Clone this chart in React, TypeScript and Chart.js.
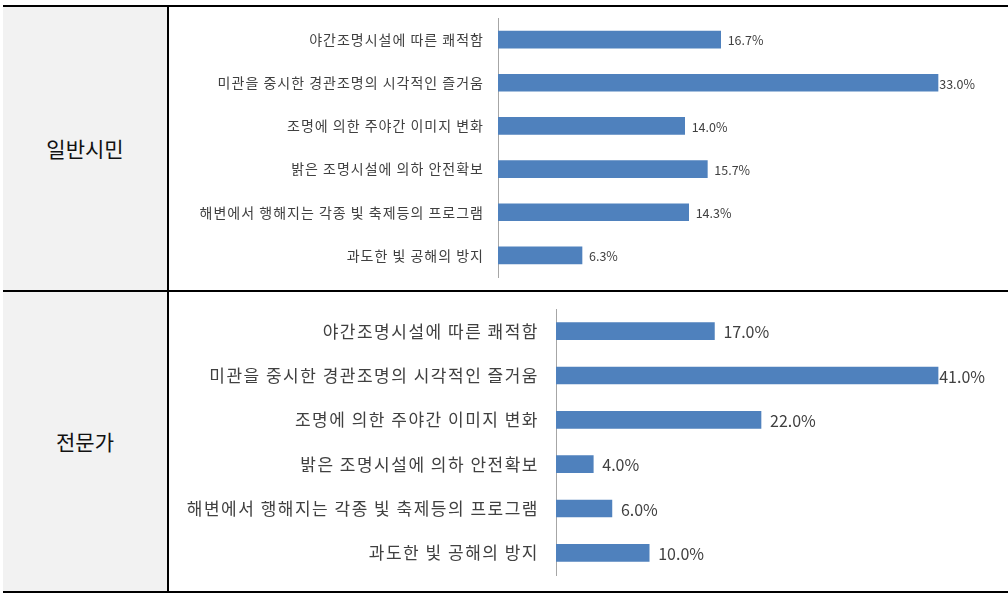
import React, { useEffect, useRef } from "react";
import { Chart, registerables } from "chart.js";

Chart.register(...registerables);

const categories = [
  "야간조명시설에 따른 쾌적함",
  "미관을 중시한 경관조명의 시각적인 즐거움",
  "조명에 의한 주야간 이미지 변화",
  "밝은 조명시설에 의하 안전확보",
  "해변에서 행해지는 각종 빛 축제등의 프로그램",
  "과도한 빛 공해의 방지",
];
const citizenValues = [16.7, 33.0, 14.0, 15.7, 14.3, 6.3];
const expertValues = [17.0, 41.0, 22.0, 4.0, 6.0, 10.0];
const rowLabels = ["일반시민", "전문가"];

const KR = "'Noto Sans CJK KR', 'Noto Sans', sans-serif";

const spacingPlugin = {
  id: "letterSpace",
  beforeDraw(chart: any, _args: any, opts: any) {
    (chart.ctx as any).letterSpacing = opts.spacing + "px";
  },
  afterDraw(chart: any) {
    (chart.ctx as any).letterSpacing = "0px";
  },
};

const valueLabelPlugin = {
  id: "valueLabels",
  afterDatasetsDraw(chart: any, _args: any, opts: any) {
    const ctx = chart.ctx;
    const meta = chart.getDatasetMeta(0);
    const data = chart.data.datasets[0].data as number[];
    ctx.save();
    (ctx as any).letterSpacing = "0px";
    ctx.font = `${opts.size}px ${KR}`;
    ctx.fillStyle = "#404040";
    ctx.textBaseline = "middle";
    ctx.textAlign = "left";
    meta.data.forEach((bar: any, i: number) => {
      const text = data[i].toFixed(1) + "%";
      const w = ctx.measureText(text).width;
      let x = bar.x + opts.offset;
      if (x + w > opts.limit) x = Math.max(bar.x + 1, opts.limit - w);
      ctx.fillText(text, x, bar.y + 1);
    });
    ctx.restore();
  },
};

type BarProps = {
  values: number[];
  left: number;
  top: number;
  width: number;
  height: number;
  axisWidth: number;
  max: number;
  padTop: number;
  padBottom: number;
  padRight: number;
  catSize: number;
  spacing: number;
  tickPad: number;
  valSize: number;
  valOffset: number;
  valLimit: number;
};

function BarChart(p: BarProps) {
  const ref = useRef<HTMLCanvasElement>(null);
  useEffect(() => {
    if (!ref.current) return;
    const chart = new Chart(ref.current, {
      type: "bar",
      data: {
        labels: categories,
        datasets: [
          {
            data: p.values,
            backgroundColor: "#4f81bd",
            borderWidth: 0,
            barThickness: 17,
          },
        ],
      },
      options: {
        indexAxis: "y",
        responsive: false,
        animation: false,
        devicePixelRatio: 1,
        layout: {
          padding: { top: p.padTop, bottom: p.padBottom, right: p.padRight, left: 0 },
        },
        plugins: {
          legend: { display: false },
          tooltip: { enabled: false },
          valueLabels: { size: p.valSize, offset: p.valOffset, limit: p.valLimit },
          letterSpace: { spacing: p.spacing },
        } as any,
        scales: {
          x: { display: false, min: 0, max: p.max },
          y: {
            grid: { display: false, drawTicks: false },
            border: { display: true, color: "#a6a6a6", width: 1 },
            ticks: {
              color: "#404040",
              padding: p.tickPad,
              font: { family: KR, size: p.catSize },
            },
            afterFit(scale: any) {
              scale.width = p.axisWidth;
              scale.paddingTop = 0;
              scale.paddingBottom = 0;
            },
          },
        },
      },
      plugins: [spacingPlugin, valueLabelPlugin],
    });
    return () => chart.destroy();
  }, []);
  return (
    <canvas
      ref={ref}
      width={p.width}
      height={p.height}
      style={{ position: "absolute", left: p.left, top: p.top, width: p.width, height: p.height }}
    />
  );
}

export default function App() {
  const line = (s: React.CSSProperties) => (
    <div style={{ position: "absolute", background: "#000", ...s }} />
  );
  const labelStyle = (top: number, h: number): React.CSSProperties => ({
    position: "absolute",
    left: 3,
    top,
    width: 164,
    height: h,
    background: "#f2f2f2",
    display: "flex",
    alignItems: "center",
    justifyContent: "center",
    fontFamily: KR,
    fontSize: 21,
    color: "#111",
  });
  return (
    <div
      style={{
        position: "absolute",
        left: 0,
        top: 0,
        width: 1008,
        height: 602,
        background: "#fff",
        overflow: "hidden",
      }}
    >
      <div style={labelStyle(6, 284)}>{rowLabels[0]}</div>
      <div style={labelStyle(291, 300)}>{rowLabels[1]}</div>
      <BarChart
        values={citizenValues}
        left={170}
        top={10}
        width={830}
        height={275}
        axisWidth={328}
        max={36}
        padTop={8}
        padBottom={8}
        padRight={22}
        catSize={14}
        spacing={1}
        tickPad={14}
        valSize={12.5}
        valOffset={7}
        valLimit={805}
      />
      <BarChart
        values={expertValues}
        left={170}
        top={295}
        width={830}
        height={290}
        axisWidth={386}
        max={44}
        padTop={14}
        padBottom={10}
        padRight={34}
        catSize={17}
        spacing={1.5}
        tickPad={17}
        valSize={16}
        valOffset={9}
        valLimit={815}
      />
      {line({ left: 3, top: 5, width: 1005, height: 1.5 })}
      {line({ left: 3, top: 290, width: 1005, height: 1.5 })}
      {line({ left: 3, top: 591, width: 1005, height: 1.5 })}
      {line({ left: 167, top: 5, width: 1.5, height: 587 })}
    </div>
  );
}
